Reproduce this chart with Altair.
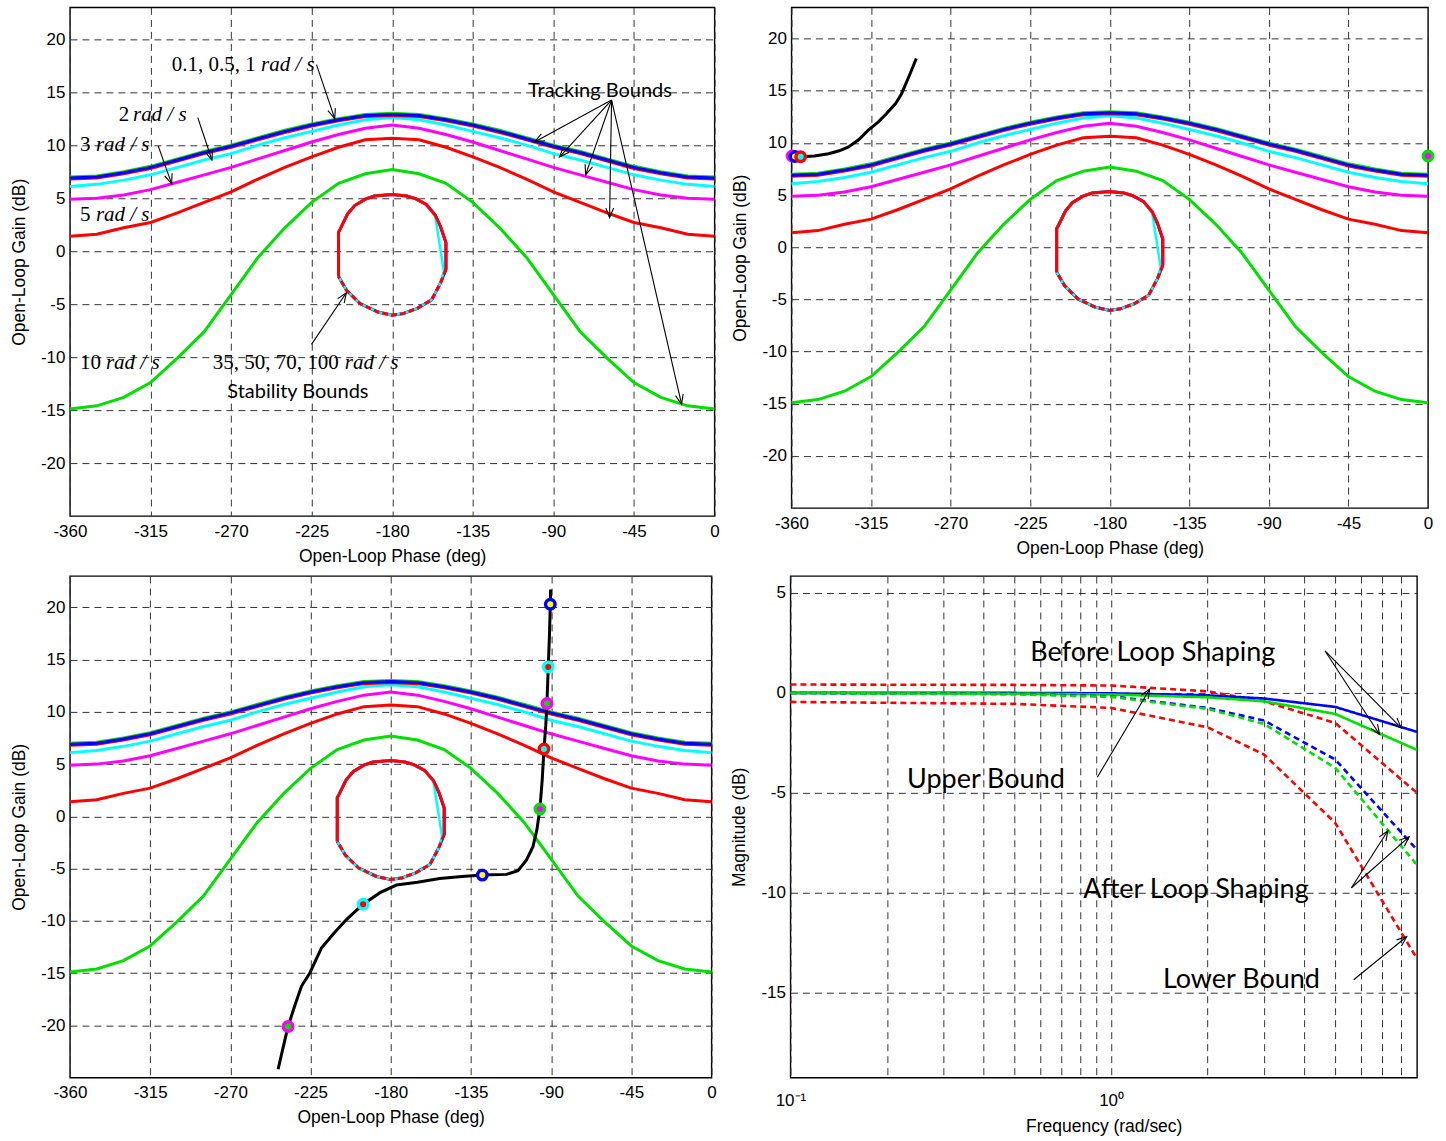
import altair as alt
import numpy as np
import pandas as pd

# ---------------- Nichols chart data ----------------
PHASE = [-360, -345, -330, -315, -300, -285, -270, -255, -240, -225, -210, -195, -180,
         -165, -150, -135, -120, -105, -90, -75, -60, -45, -30, -15, 0]
# tracking bounds (dB) at each phase
TB_G01 = [7.0, 7.1, 7.5, 8.0, 8.7, 9.4, 10.0, 10.7, 11.4, 12.0, 12.5, 12.9, 13.0,
          12.9, 12.5, 12.0, 11.4, 10.7, 10.0, 9.4, 8.7, 8.0, 7.5, 7.1, 7.0]
TB_B05 = [6.9, 7.0, 7.4, 7.9, 8.6, 9.3, 9.9, 10.6, 11.3, 11.9, 12.4, 12.8, 12.9,
          12.8, 12.4, 11.9, 11.3, 10.6, 9.9, 9.3, 8.6, 7.9, 7.4, 7.0, 6.9]
TB_R1 = [6.8, 6.9, 7.3, 7.8, 8.5, 9.2, 9.8, 10.5, 11.2, 11.8, 12.3, 12.7, 12.8,
         12.7, 12.3, 11.8, 11.2, 10.5, 9.8, 9.2, 8.5, 7.8, 7.3, 6.9, 6.8]
TB_C2 = [6.1, 6.3, 6.7, 7.2, 7.9, 8.6, 9.2, 10.0, 10.7, 11.3, 11.9, 12.4, 12.6,
         12.4, 11.9, 11.3, 10.7, 10.0, 9.2, 8.6, 7.9, 7.2, 6.7, 6.3, 6.1]
TB_M3 = [4.9, 5.0, 5.3, 5.8, 6.5, 7.2, 7.9, 8.7, 9.5, 10.3, 11.0, 11.6, 11.9,
         11.6, 11.0, 10.3, 9.5, 8.7, 7.9, 7.2, 6.5, 5.8, 5.3, 5.0, 4.9]
TB_R5 = [1.4, 1.6, 2.2, 2.7, 3.6, 4.6, 5.6, 6.8, 7.9, 8.9, 9.8, 10.5, 10.65,
         10.5, 9.8, 8.9, 7.9, 6.8, 5.6, 4.6, 3.6, 2.7, 2.2, 1.6, 1.4]
TB_G10 = [-14.9, -14.6, -13.8, -12.4, -10.1, -7.6, -4.1, -0.6, 2.2, 4.6, 6.4, 7.3, 7.7,
          7.3, 6.4, 4.6, 2.2, -0.6, -4.1, -7.6, -10.1, -12.4, -13.8, -14.6, -14.9]

# stability bounds (closed contour)
ST_SOLID_PH = [-210, -210, -209, -205, -201, -195, -190, -180, -172, -167, -161, -156, -153, -150, -150]
ST_SOLID_G = [-2.4, 1.8, 2.1, 3.5, 4.3, 4.9, 5.2, 5.35, 5.2, 4.95, 4.4, 3.4, 2.3, 0.8, -1.7]
ST_DASH_PH = [-150, -153, -158, -166, -174, -180, -188, -198, -205.5, -210]
ST_DASH_G = [-1.7, -3.0, -4.6, -5.4, -5.9, -6.05, -5.75, -4.95, -3.7, -2.4]
ST_CYAN_PH = [-210, -210, -209, -205, -201, -195, -190, -180, -172, -167, -161, -156, -151.2, -153, -158,
              -166, -174, -180, -188, -198, -205.5, -210]
ST_CYAN_G = [-2.4, 1.8, 2.1, 3.5, 4.3, 4.9, 5.2, 5.35, 5.2, 4.95, 4.4, 3.3, -1.9, -3.0, -4.6,
             -5.4, -5.9, -6.05, -5.75, -4.95, -3.7, -2.4]

# open loop before shaping (top-right)
OL0_PH = [-354.5, -347, -339, -333, -328, -322, -316.7, -311, -306.3, -301, -297.8, -293.5, -289.4]
OL0_G = [8.68, 8.75, 8.97, 9.25, 9.6, 10.3, 11.2, 12.0, 12.8, 13.8, 14.7, 16.4, 18.1]
OL0_MK_PH = [-359.6, -358.0, -354.8, 0.0]
OL0_MK_G = [8.75, 8.7, 8.68, 8.75]
OL0_MK_STROKE = ["#ff00ff", "#0000ff", "#ff0000", "#00dd00"]
OL0_MK_FILL = ["#00dd00", "#ffff00", "#00ffff", "#ff00ff"]

# open loop after shaping (bottom-left)
OL1_PH = [-243.2, -240.5, -237.6, -234, -230.1, -225.4, -218.9, -212, -205, -195.5, -186, -176.8,
          -165, -152.5, -140, -128.6, -115, -108.6, -103.9, -100.2, -98, -96.3, -95, -94.0,
          -93, -92.35, -91.6, -91, -90.45, -90.3]
OL1_G = [-24.2, -22.2, -20.1, -18.2, -16.26, -14.98, -12.6, -11.2, -9.9, -8.41, -7.3, -6.57,
         -6.3, -5.95, -5.75, -5.62, -5.55, -5.2, -4.2, -2.9, -1.3, 0.7, 3.5, 6.45,
         8.7, 10.8, 14.3, 17.0, 20.3, 21.7]
OL1_MK_PH = [-90.45, -91.6, -92.35, -94.0, -96.3, -128.6, -195.5, -237.6]
OL1_MK_G = [20.3, 14.3, 10.8, 6.45, 0.7, -5.62, -8.41, -20.1]
OL1_MK_STROKE = ["#0000ff", "#00ffff", "#ff00ff", "#ff0000", "#00dd00", "#0000ff", "#00ffff", "#ff00ff"]
OL1_MK_FILL = ["#ffff00", "#ff0000", "#00dd00", "#00ffff", "#ff00ff", "#ffff00", "#ff0000", "#00dd00"]

# ---------------- Bode data (bottom-right) ----------------
FREQ = [0.1, 0.5, 1, 2, 3, 5, 9]
UPPER = [0.42, 0.40, 0.37, 0.08, -0.42, -1.5, -5.0]
LOWER = [-0.45, -0.55, -0.75, -1.72, -3.08, -6.5, -13.3]
BEFORE_B = [0.0, 0.0, -0.02, -0.12, -0.28, -0.7, -1.95]
BEFORE_G = [0.0, -0.03, -0.08, -0.22, -0.42, -1.05, -2.85]
AFTER_B = [0.0, -0.05, -0.17, -0.75, -1.38, -3.33, -7.85]
AFTER_G = [0.0, -0.07, -0.2, -0.8, -1.55, -3.75, -8.6]

X_TICKS = [-360, -315, -270, -225, -180, -135, -90, -45, 0]
Y_TICKS = [-20, -15, -10, -5, 0, 5, 10, 15, 20]
F_GRID = [0.1, 0.2, 0.3, 0.4, 0.5, 0.6, 0.7, 0.8, 0.9, 1, 2, 3, 4, 5, 6, 7, 8]
M_TICKS = [-15, -10, -5, 0, 5]

# annotations top-left: (text, phase, gain, italic)
TL_TEXT = [
    ("0.1, 0.5, 1", -303.1, 17.55, False), ("rad / s", -253.3, 17.55, True),
    ("2", -332.7, 12.85, False), ("rad / s", -324.8, 12.85, True),
    ("3", -354.4, 10.0, False), ("rad / s", -345.5, 10.0, True),
    ("5", -354.4, 3.44, False), ("rad / s", -345.5, 3.44, True),
    ("10", -354.4, -10.6, False), ("rad / s", -339.9, -10.6, True),
    ("35, 50, 70, 100", -280.2, -10.6, False), ("rad / s", -206.5, -10.6, True),
]
TL_SANS = [("Tracking Bounds", -64.0, 15.1), ("Stability Bounds", -232.7, -13.3)]
TL_ARROWS = [  # x0, y0, x1, y1
    (-222.3, 17.6, -212.1, 12.5),
    (-288.6, 12.6, -280.7, 8.6),
    (-310.7, 9.93, -303.2, 6.35),
    (-225.1, -8.8, -205.6, -3.93),
    (-57.5, 14.26, -100.5, 10.3),
    (-57.5, 14.26, -86.5, 8.9),
    (-57.5, 14.26, -72.0, 7.2),
    (-57.5, 14.26, -58.6, 3.15),
    (-57.5, 14.26, -18.4, -14.45),
]
BR_TEXT = [("Before Loop Shaping", 1.35, 2.0), ("Upper Bound", 0.407, -4.35),
           ("After Loop Shaping", 1.84, -9.85), ("Lower Bound", 2.55, -14.35)]
BR_ARROWS = [
    (4.65, 2.1, 6.88, -2.08),
    (4.65, 2.1, 8.03, -1.75),
    (0.906, -4.22, 1.32, 0.2),
    (5.62, -9.75, 7.3, -6.9),
    (5.62, -9.75, 8.5, -7.2),
    (5.71, -14.35, 8.35, -12.2),
]

GREEN = "#00e000"
BLUE = "#0000ff"
RED = "#ff0000"
CYAN = "#00ffff"
MAGENTA = "#ff00ff"
AXF = "Liberation Sans"
HEAD = "M-0.4,1L0,0L0.4,1"
NUM_LABEL = "'' + datum.value"

BR_YDOM = [-19.25, 5.85]


def xy_df(xs, ys):
    return pd.DataFrame({"x": xs, "y": ys, "i": list(range(len(xs)))})


def arrow_df(arrows, kx, ky, logx=False):
    rows = []
    for x0, y0, x1, y1 in arrows:
        dx = (np.log10(x1) - np.log10(x0)) * kx if logx else (x1 - x0) * kx
        dy = -(y1 - y0) * ky
        ang = float(np.degrees(np.arctan2(dx, -dy)) % 360)
        rows.append(dict(x0=x0, y0=y0, x1=x1, y1=y1, ang=ang))
    return pd.DataFrame(rows)


def nichols_panel(width, height, curve=None, markers=None, annotate=False):
    xs = alt.Scale(domain=[-360, 0], nice=False, zero=False)
    ys = alt.Scale(domain=[-25, 23], nice=False, zero=False)
    xax = alt.Axis(values=X_TICKS, title="Open-Loop Phase (deg)", labelExpr=NUM_LABEL)
    yax = alt.Axis(values=Y_TICKS, title="Open-Loop Gain (dB)", labelExpr=NUM_LABEL)

    def E(chart, x="x", y="y", **kw):
        return chart.encode(x=alt.X(f"{x}:Q", scale=xs, axis=xax),
                            y=alt.Y(f"{y}:Q", scale=ys, axis=yax), **kw)

    layers = []
    for vals, col in [(TB_G10, GREEN), (TB_R5, RED), (TB_M3, MAGENTA), (TB_C2, CYAN),
                      (TB_G01, GREEN), (TB_R1, RED), (TB_B05, BLUE)]:
        layers.append(E(alt.Chart(xy_df(PHASE, vals)).mark_line(color=col, strokeWidth=3),
                        order="i:Q"))
    # stability bounds
    full_ph = ST_SOLID_PH + ST_DASH_PH[1:]
    full_g = ST_SOLID_G + ST_DASH_G[1:]
    layers.append(E(alt.Chart(xy_df(full_ph, full_g)).mark_line(color=BLUE, strokeWidth=3), order="i:Q"))
    layers.append(E(alt.Chart(xy_df(ST_CYAN_PH, ST_CYAN_G)).mark_line(color=CYAN, strokeWidth=2.5), order="i:Q"))
    layers.append(E(alt.Chart(xy_df(ST_SOLID_PH, ST_SOLID_G)).mark_line(color=RED, strokeWidth=3), order="i:Q"))
    layers.append(E(alt.Chart(xy_df(ST_DASH_PH, ST_DASH_G)).mark_line(color=RED, strokeWidth=3, strokeDash=[6, 3]),
                    order="i:Q"))
    if curve is not None:
        layers.append(E(alt.Chart(xy_df(*curve)).mark_line(color="black", strokeWidth=3), order="i:Q"))
    if markers is not None:
        ph, g, st, fi = markers
        mdf = pd.DataFrame({"x": ph, "y": g, "s": st, "f": fi})
        layers.append(E(alt.Chart(mdf).mark_point(filled=True, size=90, strokeWidth=3.4, opacity=1, shape="circle"),
                        fill=alt.Fill("f:N", scale=None), stroke=alt.Stroke("s:N", scale=None)))
    if annotate:
        tdf = pd.DataFrame([dict(t=t, x=x, y=y, it=it) for t, x, y, it in TL_TEXT])
        layers.append(E(alt.Chart(tdf[~tdf.it]).mark_text(align="left", baseline="middle",
                        font="Liberation Serif", fontSize=21, color="black"), text="t:N"))
        layers.append(E(alt.Chart(tdf[tdf.it]).mark_text(align="left", baseline="middle",
                        font="Liberation Serif", fontSize=21, fontStyle="italic", color="black"), text="t:N"))
        sdf = pd.DataFrame([dict(t=t, x=x, y=y) for t, x, y in TL_SANS])
        layers.append(E(alt.Chart(sdf).mark_text(align="center", baseline="middle",
                        font="Lato", fontSize=20, color="black"), text="t:N"))
        adf = arrow_df(TL_ARROWS, width / 360.0, height / 48.0)
        layers.append(E(alt.Chart(adf).mark_rule(color="black", strokeWidth=1.1), x="x0", y="y0",
                        x2="x1:Q", y2="y1:Q"))
        layers.append(E(alt.Chart(adf).mark_point(shape=HEAD, filled=False, size=380, color="black",
                                                  strokeWidth=1.1, opacity=1),
                        x="x1", y="y1", angle=alt.Angle("ang:Q", scale=None)))
    return alt.layer(*layers).properties(width=width, height=height)


def bode_panel(width, height):
    xs = alt.Scale(type="log", domain=[0.1, 9], nice=False)
    ys = alt.Scale(domain=BR_YDOM, nice=False, zero=False)
    xax = alt.Axis(values=F_GRID, title="Frequency (rad/sec)", labelPadding=15, titlePadding=9,
                   labelExpr="abs(datum.value - 0.1) < 1e-9 ? '10\u207b\u00b9' : (abs(datum.value - 1) < 1e-9 ? '10\u2070' : '')")
    yax = alt.Axis(values=M_TICKS, title="Magnitude (dB)", labelExpr=NUM_LABEL)

    def E(chart, x="x", y="y", **kw):
        return chart.encode(x=alt.X(f"{x}:Q", scale=xs, axis=xax),
                            y=alt.Y(f"{y}:Q", scale=ys, axis=yax), **kw)

    layers = []
    for vals, col, dash in [(UPPER, RED, True), (LOWER, RED, True), (BEFORE_B, BLUE, False),
                            (BEFORE_G, GREEN, False), (AFTER_B, BLUE, True), (AFTER_G, GREEN, True)]:
        mk = alt.Chart(xy_df(FREQ, vals)).mark_line(color=col, strokeWidth=2.6,
                                                   strokeDash=[6, 4] if dash else [1, 0])
        layers.append(E(mk, order="i:Q"))
    tdf = pd.DataFrame([dict(t=t, x=x, y=y) for t, x, y in BR_TEXT])
    layers.append(E(alt.Chart(tdf).mark_text(align="center", baseline="middle", font="Lato",
                                             fontSize=27, color="black"), text="t:N"))
    adf = arrow_df(BR_ARROWS, width / np.log10(90), height / (BR_YDOM[1] - BR_YDOM[0]), logx=True)
    layers.append(E(alt.Chart(adf).mark_rule(color="black", strokeWidth=1.1), x="x0", y="y0",
                    x2="x1:Q", y2="y1:Q"))
    layers.append(E(alt.Chart(adf).mark_point(shape=HEAD, filled=False, size=380, color="black",
                                              strokeWidth=1.1, opacity=1),
                    x="x1", y="y1", angle=alt.Angle("ang:Q", scale=None)))
    return alt.layer(*layers).properties(width=width, height=height)


tl = nichols_panel(645, 509, annotate=True)
tr = nichols_panel(637, 501, curve=(OL0_PH, OL0_G),
                   markers=(OL0_MK_PH, OL0_MK_G, OL0_MK_STROKE, OL0_MK_FILL))
bl = nichols_panel(642, 502, curve=(OL1_PH, OL1_G),
                   markers=(OL1_MK_PH, OL1_MK_G, OL1_MK_STROKE, OL1_MK_FILL))
br = bode_panel(627, 502)

row1 = alt.hconcat(tl, tr, spacing=9)
row2 = alt.hconcat(bl, br, spacing=11)
chart = alt.vconcat(row1, row2, spacing=9).properties(
    padding={"left": 9, "top": 6, "right": 5, "bottom": 5},
    background="white",
).configure_view(stroke="black", strokeWidth=1.4).configure_axis(
    grid=True, gridDash=[7, 5], gridColor="#333333", gridWidth=1, gridOpacity=1,
    domain=False, ticks=False, labelFont=AXF, labelFontSize=17, labelColor="black",
    titleFont=AXF, titleFontSize=17.5, titleFontWeight="normal", titleColor="black",
    labelFlush=False, labelOverlap=False, labelPadding=7, titlePadding=8,
).configure_axisY(titlePadding=12, labelPadding=5)

chart.save("out.html", embed_options={"renderer": "svg", "actions": False})
